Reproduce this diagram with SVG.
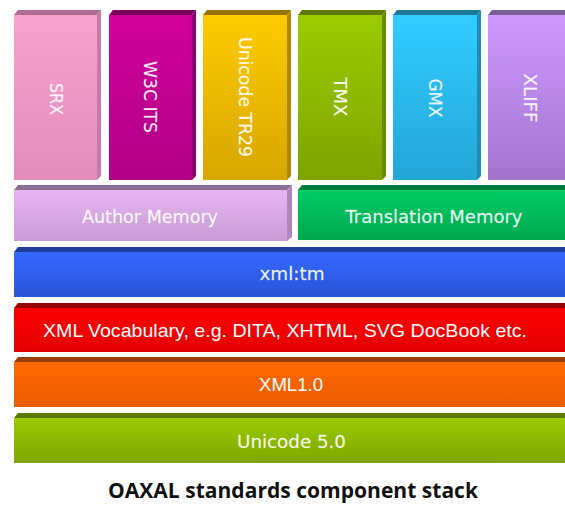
<svg xmlns="http://www.w3.org/2000/svg" width="565" height="506" viewBox="0 0 565 506">
  <defs>
    <linearGradient id="gPink" x1="0" y1="0" x2="0" y2="1"><stop offset="0" stop-color="#F9A2CF"/><stop offset="1" stop-color="#E38BBB"/></linearGradient>
    <linearGradient id="gMagenta" x1="0" y1="0" x2="0" y2="1"><stop offset="0" stop-color="#D1009B"/><stop offset="1" stop-color="#B00087"/></linearGradient>
    <linearGradient id="gGold" x1="0" y1="0" x2="0" y2="1"><stop offset="0" stop-color="#FDCB00"/><stop offset="1" stop-color="#D7A600"/></linearGradient>
    <linearGradient id="gLime" x1="0" y1="0" x2="0" y2="1"><stop offset="0" stop-color="#9ACC00"/><stop offset="1" stop-color="#7FA300"/></linearGradient>
    <linearGradient id="gCyan" x1="0" y1="0" x2="0" y2="1"><stop offset="0" stop-color="#33CCFF"/><stop offset="1" stop-color="#22A6D6"/></linearGradient>
    <linearGradient id="gViolet" x1="0" y1="0" x2="0" y2="1"><stop offset="0" stop-color="#CC99FF"/><stop offset="1" stop-color="#A274CF"/></linearGradient>
    <linearGradient id="gLilac" x1="0" y1="0" x2="0" y2="1"><stop offset="0" stop-color="#E5B5F0"/><stop offset="1" stop-color="#C89BD4"/></linearGradient>
    <linearGradient id="gGreen" x1="0" y1="0" x2="0" y2="1"><stop offset="0" stop-color="#00CC66"/><stop offset="1" stop-color="#00A84F"/></linearGradient>
    <linearGradient id="gBlue" x1="0" y1="0" x2="0" y2="1"><stop offset="0" stop-color="#3568FF"/><stop offset="1" stop-color="#2A55D6"/></linearGradient>
    <linearGradient id="gRed" x1="0" y1="0" x2="0" y2="1"><stop offset="0" stop-color="#FF0000"/><stop offset="1" stop-color="#E20000"/></linearGradient>
    <linearGradient id="gOrange" x1="0" y1="0" x2="0" y2="1"><stop offset="0" stop-color="#FF6A00"/><stop offset="1" stop-color="#E85C00"/></linearGradient>
    <linearGradient id="gApple" x1="0" y1="0" x2="0" y2="1"><stop offset="0" stop-color="#99CC00"/><stop offset="1" stop-color="#7EA500"/></linearGradient>
  </defs>
  <style>
    .col-label { font-family: "DejaVu Sans", "Noto Sans", sans-serif; font-size: 17px; fill: #FFFFFF; fill-opacity: 0.92; stroke: #FFFFFF; stroke-opacity: 0.5; stroke-width: 0.3; text-anchor: middle; dominant-baseline: central; }
    .row-label { font-family: "DejaVu Sans", "Noto Sans", sans-serif; font-size: 17.5px; fill: #FFFFFF; fill-opacity: 0.92; stroke: #FFFFFF; stroke-opacity: 0.5; stroke-width: 0.3; text-anchor: middle; }
    .row-label-arial { font-family: "Liberation Sans", Arial, sans-serif; font-size: 19px; fill: #FFFFFF; text-anchor: middle; }
    .caption { font-family: "Open Sans", "Liberation Sans", sans-serif; font-weight: bold; font-size: 21px; fill: #111111; text-anchor: middle; }
  </style>

  <rect x="0" y="0" width="565" height="506" fill="#FFFFFF"/>

  <!-- upper row: vertical standards columns -->
  <g id="srx">
    <polygon points="14,15 18,10 101,10 97,15" fill="#B06B90"/>
    <polygon points="97,15 101,10 101,176 97,180" fill="#C77AA5"/>
    <rect x="14" y="15" width="83" height="165" fill="url(#gPink)"/>
    <text class="col-label" transform="translate(56,99) rotate(90)" textLength="32" lengthAdjust="spacingAndGlyphs">SRX</text>
  </g>
  <g id="w3c-its">
    <polygon points="109,15 113,10 196,10 192,15" fill="#7A0060"/>
    <polygon points="192,15 196,10 196,176 192,180" fill="#8E006E"/>
    <rect x="109" y="15" width="83" height="165" fill="url(#gMagenta)"/>
    <text class="col-label" transform="translate(150,97) rotate(90)" textLength="72" lengthAdjust="spacingAndGlyphs">W3C ITS</text>
  </g>
  <g id="unicode-tr29">
    <polygon points="203,15 207,10 291,10 287,15" fill="#957500"/>
    <polygon points="287,15 291,10 291,176 287,180" fill="#B08800"/>
    <rect x="203" y="15" width="84" height="165" fill="url(#gGold)"/>
    <text class="col-label" transform="translate(245,97) rotate(90)" textLength="120" lengthAdjust="spacingAndGlyphs">Unicode TR29</text>
  </g>
  <g id="tmx">
    <polygon points="298,15 302,10 386,10 382,15" fill="#5B7A00"/>
    <polygon points="382,15 386,10 386,176 382,180" fill="#6A8C00"/>
    <rect x="298" y="15" width="84" height="165" fill="url(#gLime)"/>
    <text class="col-label" transform="translate(340,97) rotate(90)" textLength="39" lengthAdjust="spacingAndGlyphs">TMX</text>
  </g>
  <g id="gmx">
    <polygon points="393,15 397,10 481,10 477,15" fill="#1E7A9A"/>
    <polygon points="477,15 481,10 481,176 477,180" fill="#1C8DB8"/>
    <rect x="393" y="15" width="84" height="165" fill="url(#gCyan)"/>
    <text class="col-label" transform="translate(435,98) rotate(90)" textLength="39" lengthAdjust="spacingAndGlyphs">GMX</text>
  </g>
  <g id="xliff">
    <polygon points="488,15 492,10 566,10 566,15" fill="#7A5C99"/>
    <rect x="488" y="15" width="78" height="165" fill="url(#gViolet)"/>
    <text class="col-label" transform="translate(530,98) rotate(90)" textLength="49" lengthAdjust="spacingAndGlyphs">XLIFF</text>
  </g>

  <!-- memory layer -->
  <g id="author-memory">
    <polygon points="14,190 18,185 292,185 287,190" fill="#8C6C92"/>
    <polygon points="287,190 292,185 292,237 287,241" fill="#B089BC"/>
    <rect x="14" y="190" width="273" height="51" fill="url(#gLilac)"/>
    <text class="row-label" x="150" y="223" textLength="136" lengthAdjust="spacingAndGlyphs">Author Memory</text>
  </g>
  <g id="translation-memory">
    <polygon points="298,190 302,185 566,185 566,190" fill="#007A3D"/>
    <rect x="298" y="190" width="268" height="50" fill="url(#gGreen)"/>
    <text class="row-label" x="434" y="223" textLength="177" lengthAdjust="spacingAndGlyphs">Translation Memory</text>
  </g>

  <!-- full-width base layers -->
  <g id="xml-tm">
    <polygon points="14,252 18,247 566,247 566,252" fill="#1F3D99"/>
    <rect x="14" y="252" width="552" height="45" fill="url(#gBlue)"/>
    <text class="row-label" x="292" y="280" textLength="65" lengthAdjust="spacingAndGlyphs">xml:tm</text>
  </g>
  <g id="xml-vocabulary">
    <polygon points="14,308 18,303 566,303 566,308" fill="#990000"/>
    <rect x="14" y="308" width="552" height="44" fill="url(#gRed)"/>
    <text class="row-label-arial" x="285" y="337" textLength="484" lengthAdjust="spacingAndGlyphs">XML Vocabulary, e.g. DITA, XHTML, SVG DocBook etc.</text>
  </g>
  <g id="xml-1-0">
    <polygon points="14,362 18,357 566,357 566,362" fill="#993D00"/>
    <rect x="14" y="362" width="552" height="45" fill="url(#gOrange)"/>
    <text class="row-label-arial" x="291" y="391" textLength="64" lengthAdjust="spacingAndGlyphs">XML1.0</text>
  </g>
  <g id="unicode-5-0">
    <polygon points="14,418 18,413 566,413 566,418" fill="#5B7A00"/>
    <rect x="14" y="418" width="552" height="45" fill="url(#gApple)"/>
    <text class="row-label" x="291.5" y="448" textLength="109" lengthAdjust="spacingAndGlyphs">Unicode 5.0</text>
  </g>

  <g id="connectors"/>

  <text class="caption" x="293" y="498" textLength="370" lengthAdjust="spacingAndGlyphs">OAXAL standards component stack</text>
</svg>
